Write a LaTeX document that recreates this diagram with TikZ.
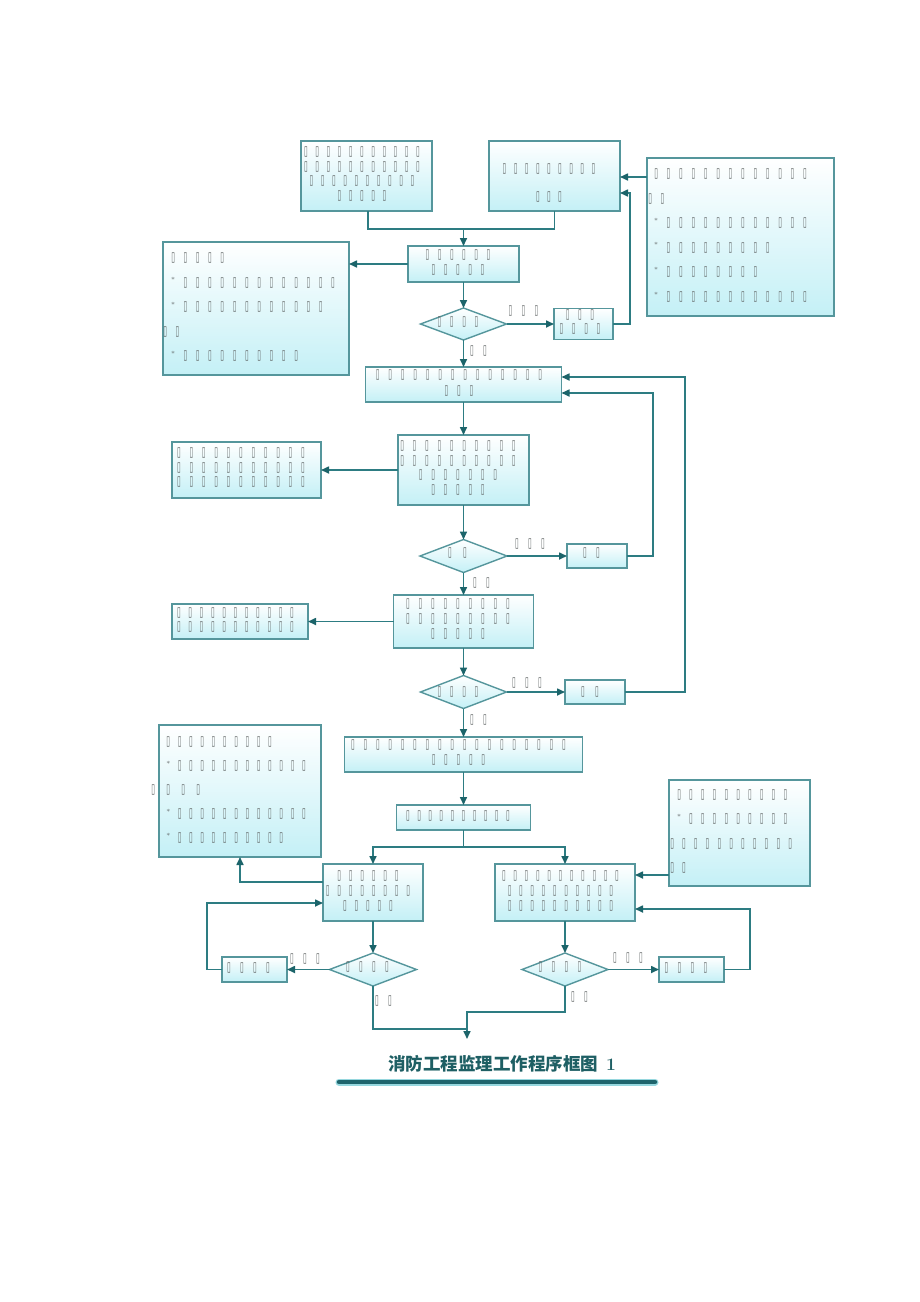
\documentclass[tikz,border=0pt]{standalone}
\usepackage{fontspec}
\usepackage{graphicx}
\usetikzlibrary{arrows.meta,shapes.geometric}
\newfontfamily\phfont{DejaVu Sans}
\newfontfamily\cjk{Noto Sans CJK SC}
\definecolor{bordc}{RGB}{85,150,156}
\definecolor{fillc}{RGB}{196,240,246}
\definecolor{linec}{RGB}{45,124,130}
\definecolor{headc}{RGB}{28,100,106}
\definecolor{phcol}{RGB}{95,100,100}
\definecolor{titlec}{RGB}{30,95,100}
\definecolor{barc}{RGB}{30,100,108}
\definecolor{barl}{RGB}{150,215,222}
\newlength\phw \setlength\phw{12pt}
\newcount\phc
\newcommand\phg{{\phfont\bfseries\scalebox{0.75}[1.5]{▯}}}
\newcommand\phloop{\ifnum\phc>0 \makebox[\phw][c]{\phg}\advance\phc by -1\relax\expandafter\phloop\fi}
\newcommand\ph[1]{\phc=#1\relax\phloop}
\newcommand\st{\makebox[\phw][c]{\raisebox{3.5pt}{\fontsize{7}{7}\selectfont *}}}
\newcommand\tf[2]{\fontsize{9}{#1}\selectfont\setlength\phw{#2pt}}
\tikzset{
  box/.style={draw=bordc, line width=1.4pt, top color=white, bottom color=fillc, inner sep=0pt, outer sep=0pt},
  dia/.style={diamond, draw=bordc, line width=1.4pt, top color=white, bottom color=fillc, inner sep=0pt, outer sep=0pt},
  txt/.style={align=center, inner sep=0pt, text=phcol},
  txtl/.style={align=left, inner sep=0pt, text=phcol, anchor=west},
  ln/.style={draw=linec, line width=1.6pt},
  arr/.style={draw=linec, line width=1.6pt, -{Triangle[length=8pt,width=7pt,color=headc]}}
}
\begin{document}
\begin{tikzpicture}[x=1pt,y=-1pt]
\fill[white] (0,0) rectangle (920,1302);
\useasboundingbox (0,0) rectangle (920,1302);
% boxes
\node[box, minimum width=131pt, minimum height=70pt] (A) at (366.5,176) {};
\node[box, minimum width=131pt, minimum height=70pt] (B) at (554.5,176) {};
\node[box, minimum width=187pt, minimum height=158pt] (C) at (740.5,237) {};
\node[box, minimum width=111pt, minimum height=36pt] (D) at (463.5,264) {};
\node[box, minimum width=186pt, minimum height=133pt] (E) at (256,308.5) {};
\node[box, minimum width=59pt, minimum height=31pt] (F) at (583.5,324) {};
\node[box, minimum width=196pt, minimum height=35pt] (G) at (463.5,384.5) {};
\node[box, minimum width=131pt, minimum height=70pt] (H) at (463.5,470) {};
\node[box, minimum width=149pt, minimum height=56pt] (I) at (246.5,470) {};
\node[box, minimum width=60pt, minimum height=24pt] (J) at (597,556) {};
\node[box, minimum width=140pt, minimum height=53pt] (K) at (463.5,621.5) {};
\node[box, minimum width=136pt, minimum height=35pt] (L) at (240,621.5) {};
\node[box, minimum width=60pt, minimum height=24pt] (M) at (595,692) {};
\node[box, minimum width=238pt, minimum height=35pt] (N) at (463.5,754.5) {};
\node[box, minimum width=134pt, minimum height=25pt] (O) at (463.5,817.5) {};
\node[box, minimum width=100pt, minimum height=57pt] (P) at (373,892.5) {};
\node[box, minimum width=140pt, minimum height=57pt] (Q) at (565,892.5) {};
\node[box, minimum width=162pt, minimum height=132pt] (R) at (240,791) {};
\node[box, minimum width=141pt, minimum height=106pt] (S) at (739.5,833) {};
\node[box, minimum width=65pt, minimum height=25pt] (T) at (254.5,969.5) {};
\node[box, minimum width=65pt, minimum height=25pt] (U) at (691.5,969.5) {};
% diamonds
\node[dia, minimum width=86pt, minimum height=32pt] (d1) at (463.5,324) {};
\node[dia, minimum width=87pt, minimum height=33pt] (d2) at (463.5,556) {};
\node[dia, minimum width=86pt, minimum height=33pt] (d3) at (463.5,692) {};
\node[dia, minimum width=87pt, minimum height=33pt] (d4) at (373,969.5) {};
\node[dia, minimum width=86pt, minimum height=33pt] (d5) at (565,969.5) {};
% texts
\node[txt, font=\tf{14.7}{11.2}] (At) at (362,174) {\ph{11}\\\ph{11}\\\ph{10}\\\ph{5}};
\node[txt, font=\tf{28}{11.1}] (Bt) at (549,183) {\ph{9}\\\ph{3}};
\node[txtl, font=\tf{24.6}{12.4}] (Ct) at (643.8,235.5) {\hspace*{6pt}\ph{13}\\\ph{2}\\\hspace*{6pt}\st\ph{12}\\\hspace*{6pt}\st\ph{9}\\\hspace*{6pt}\st\ph{8}\\\hspace*{6pt}\st\ph{12}};
\node[txt, font=\tf{15}{12.2}] (Dt) at (458,262.5) {\ph{6}\\\ph{5}};
\node[txtl, font=\tf{24.5}{12.3}] (Et) at (158.8,307) {\hspace*{8pt}\ph{5}\\\hspace*{8pt}\st\ph{13}\\\hspace*{8pt}\st\ph{12}\\\ph{2}\\\hspace*{8pt}\st\ph{10}};
\node[txt, font=\tf{14}{12.3}] (Ft) at (580,322) {\ph{3}\\\ph{4}};
\node[txt, font=\tf{16}{12.5}] (Gt) at (459,383) {\ph{14}\\\ph{3}};
\node[txt, font=\tf{14.7}{12.4}] (Ht) at (458,468) {\ph{10}\\\ph{10}\\\ph{7}\\\ph{5}};
\node[txt, font=\tf{14.5}{12.4}] (It) at (241,467.5) {\ph{11}\\\ph{11}\\\ph{11}};
\node[txt, font=\tf{14}{13}] (Jt) at (591.5,553) {\ph{2}};
\node[txt, font=\tf{15}{12.5}] (Kt) at (458,619) {\ph{9}\\\ph{9}\\\ph{5}};
\node[txt, font=\tf{14}{11.3}] (Lt) at (235.5,620) {\ph{11}\\\ph{11}};
\node[txt, font=\tf{14}{14}] (Mt) at (590,692) {\ph{2}};
\node[txt, font=\tf{15}{12.4}] (Nt) at (458.5,752.5) {\ph{18}\\\ph{5}};
\node[txt, font=\tf{14}{11.1}] (Ot) at (458,816) {\ph{10}};
\node[txt, font=\tf{15}{11.5}] (Pt) at (368,891) {\ph{6}\\\ph{8}\\\ph{5}};
\node[txt, font=\tf{15}{11.3}] (Qt) at (560.5,891) {\ph{11}\\\ph{10}\\\ph{10}};
\node[txtl, font=\tf{24}{11.3}] (Rt) at (145.5,790) {\hspace*{17pt}\ph{10}\\\hspace*{17pt}\st\ph{12}\\{\setlength\phw{15pt}\ph{4}}\\\hspace*{17pt}\st\ph{12}\\\hspace*{17pt}\st\ph{10}};
\node[txtl, font=\tf{24.3}{11.8}] (St) at (666.1,831.5) {\hspace*{7pt}\ph{10}\\\hspace*{7pt}\st\ph{9}\\\ph{11}\\\ph{2}};
\node[txt, font=\tf{14}{13}] (Tt) at (248.5,968) {\ph{4}};
\node[txt, font=\tf{14}{13}] (Ut) at (686,968) {\ph{4}};
\node[txt, font=\tf{14}{12.3}] (d1t) at (458,322) {\ph{4}};
\node[txt, font=\tf{14}{15}] (d2t) at (457.5,553) {\ph{2}};
\node[txt, font=\tf{14}{12.3}] (d3t) at (458,692) {\ph{4}};
\node[txt, font=\tf{14}{13}] (d4t) at (367.5,967) {\ph{4}};
\node[txt, font=\tf{14}{13}] (d5t) at (560,967) {\ph{4}};
% branch labels
\node[txt, font=\tf{14}{13}] (l1) at (523.5,311) {\ph{3}};
\node[txt, font=\tf{14}{13}] (l2) at (478.5,351) {\ph{2}};
\node[txt, font=\tf{14}{13}] (l3) at (530,544) {\ph{3}};
\node[txt, font=\tf{14}{13}] (l4) at (481.5,583) {\ph{2}};
\node[txt, font=\tf{14}{13}] (l5) at (527,683) {\ph{3}};
\node[txt, font=\tf{14}{13}] (l6) at (478.5,720) {\ph{2}};
\node[txt, font=\tf{14}{13}] (l7) at (305,959) {\ph{3}};
\node[txt, font=\tf{14}{13}] (l8) at (383.5,1001) {\ph{2}};
\node[txt, font=\tf{14}{13}] (l9) at (628,958) {\ph{3}};
\node[txt, font=\tf{14}{13}] (l10) at (579.5,997) {\ph{2}};
% coordinates
\coordinate (j1) at (463.5,229);
\coordinate (bF) at (630,193);
\coordinate (cB) at (647,177);
\coordinate (gJ) at (653,393);
\coordinate (gM) at (685,377);
\coordinate (j2) at (463.5,847);
\coordinate (pR) at (323,882);
\coordinate (sQ) at (669,875);
\coordinate (tP) at (207,903);
\coordinate (uQ) at (750,909);
\coordinate (m1) at (467,1012);
\coordinate (m2) at (467,1029);
\coordinate (endp) at (467,1039);
% connectors
\draw[ln] ([xshift=1.5pt]A.south) |- (j1) -| (B.south);
\draw[arr] (j1) -- (D.north);
\draw[arr] (D.west) -- (D.west -| E.east);
\draw[arr] (D.south) -- (d1.north);
\draw[arr] (d1.east) -- (F.west);
\draw[arr] (F.east) -| (bF) -- (bF -| B.east);
\draw[arr] (cB) -- (cB -| B.east);
\draw[arr] (d1.south) -- (G.north);
\draw[arr] (G.south) -- (H.north);
\draw[arr] (H.west) -- (H.west -| I.east);
\draw[arr] (H.south) -- (d2.north);
\draw[arr] (d2.east) -- (J.west);
\draw[arr] (J.east) -| (gJ) -- (gJ -| G.east);
\draw[arr] (d2.south) -- (K.north);
\draw[arr] (K.west) -- (K.west -| L.east);
\draw[arr] (K.south) -- (d3.north);
\draw[arr] (d3.east) -- (M.west);
\draw[arr] (M.east) -| (gM) -- (gM -| G.east);
\draw[arr] (d3.south) -- (N.north);
\draw[arr] (N.south) -- (O.north);
\draw[ln] (O.south) -- (j2);
\draw[arr] (j2) -| (P.north);
\draw[arr] (j2) -| (Q.north);
\draw[arr] (pR) -| (R.south);
\draw[arr] (sQ) -- (sQ -| Q.east);
\draw[arr] (P.south) -- (d4.north);
\draw[arr] (d4.west) -- (T.east);
\draw[arr] (T.west) -| (tP) -- (tP -| P.west);
\draw[arr] (Q.south) -- (d5.north);
\draw[arr] (d5.east) -- (U.west);
\draw[arr] (U.east) -| (uQ) -- (uQ -| Q.east);
\draw[ln] (d4.south) |- (m2);
\draw[arr] (d5.south) |- (m1) -- (endp);
% title
\node[text=titlec, font=\fontsize{17.5}{20}\selectfont, inner sep=0pt] (title) at (502,1064) {{\cjk\bfseries 消防工程监理工作程序框图}\hspace{8pt}\textbf{1}};
\draw[barl, line width=7pt, line cap=round] (339,1082) -- (655,1082);
\draw[barc, line width=4.5pt, line cap=round] (339,1082) -- (655,1082);
\end{tikzpicture}
\end{document}
